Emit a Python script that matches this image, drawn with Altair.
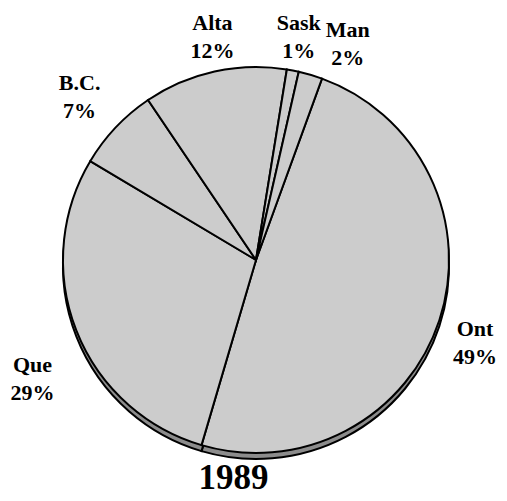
import altair as alt
import pandas as pd

provinces = ["Ont", "Que", "B.C.", "Alta", "Sask", "Man"]
shares = [49, 29, 7, 12, 1, 2]
order = [1, 2, 3, 4, 5, 6]
year_title = "1989"

df = pd.DataFrame({"prov": provinces, "pct": shares, "idx": order})

start = 0.349  # radians, first slice boundary
theta_scale = alt.Scale(domain=[0, 100], range=[start, start + 6.2832])

CX, CY, R = 248, 252, 193
FONT = "Liberation Serif"

base = alt.Chart(df).encode(
    theta=alt.Theta("pct:Q", stack=True, scale=theta_scale),
    order=alt.Order("idx:Q"),
)

edge = base.mark_arc(
    fill="#8c8c8c", stroke="black", strokeWidth=2, radius=R
).encode(x=alt.value(CX), y=alt.value(CY + 6))

face = base.mark_arc(
    fill="#cccccc", stroke="black", strokeWidth=2, radius=R
).encode(x=alt.value(CX), y=alt.value(CY))

# label nudges (annotation placement only)
nudges = {"Ont": (-9, -6), "Que": (0, 17), "B.C.": (-2, -12),
          "Alta": (8, -3), "Sask": (-3, -1), "Man": (24, 0)}

label_layers = []
for p, (ddx, ddy) in nudges.items():
    label_layers.append(
        base.transform_calculate(
            lab="datum.prov + '\\n' + datum.pct + '%'"
        ).mark_text(
            font=FONT, fontSize=22, fontWeight="bold", lineBreak="\n",
            lineHeight=28, color="black", align="center", baseline="middle",
            dx=ddx, dy=ddy
        ).encode(
            x=alt.value(CX), y=alt.value(CY), radius=alt.value(240),
            text="lab:N",
            opacity=alt.condition(f"datum.prov === '{p}'", alt.value(1), alt.value(0)),
        )
    )

chart = alt.layer(edge, face, *label_layers).properties(
    width=491, height=485,
    autosize=alt.AutoSizeParams(type="none"),
    padding=0,
    title=alt.TitleParams(
        year_title, orient="bottom", anchor="middle", font=FONT,
        fontSize=35, fontWeight="bold", color="black", offset=-32, dx=-20
    ),
).configure_view(stroke=None)

chart.save("out.html", embed_options={"renderer": "svg", "actions": False})
